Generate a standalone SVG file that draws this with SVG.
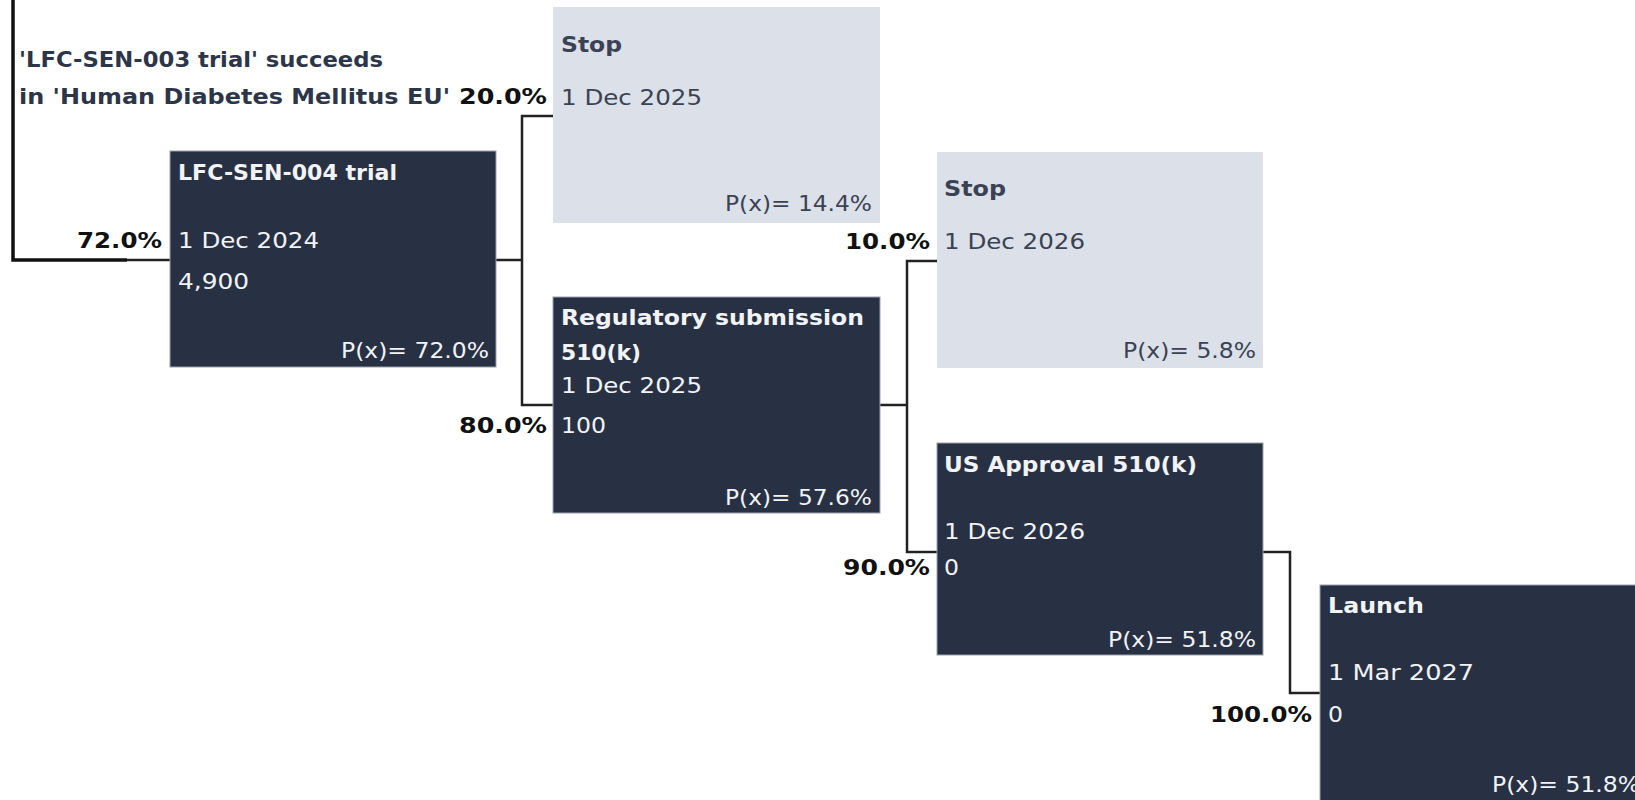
<svg xmlns="http://www.w3.org/2000/svg" width="1635" height="800" viewBox="0 0 1635 800">
<style>
text{font-family:"DejaVu Sans","Noto Sans",sans-serif;font-size:21px}
.dark rect{fill:#283144;stroke:#9aa0aa;stroke-width:1}
.light rect{fill:#dce0e8}
.dark text{fill:#f2f3f5}
.light text{fill:#3a4254}
.b{font-weight:bold}
.pct{font-weight:bold;fill:#111;text-anchor:end}
.cap{font-weight:bold;fill:#2d3548}
.con{fill:none;stroke:#222;stroke-width:2.5}
</style>
<rect width="1635" height="800" fill="#fff"/>
<g id="connectors">
<path d="M13 0 V260 H127" fill="none" stroke="#111" stroke-width="3.5"/>
<path class="con" d="M127 260 H170"/>
<path class="con" d="M496 260 H522 M553 116 H522 V405 H553"/>
<path class="con" d="M880 405 H907 M937 261 H907 V552 H937"/>
<path class="con" d="M1263 552 H1290 V693 H1320"/>
</g>
<g id="labels">
<text class="cap" x="19" y="67" textLength="364" lengthAdjust="spacingAndGlyphs">'LFC-SEN-003 trial' succeeds</text>
<text class="cap" x="19" y="104" textLength="431" lengthAdjust="spacingAndGlyphs">in 'Human Diabetes Mellitus EU'</text>
<text class="pct" x="547" y="104" textLength="88" lengthAdjust="spacingAndGlyphs">20.0%</text>
<text class="pct" x="162" y="248" textLength="85" lengthAdjust="spacingAndGlyphs">72.0%</text>
<text class="pct" x="547" y="433" textLength="88" lengthAdjust="spacingAndGlyphs">80.0%</text>
<text class="pct" x="930" y="249" textLength="85" lengthAdjust="spacingAndGlyphs">10.0%</text>
<text class="pct" x="930" y="575" textLength="87" lengthAdjust="spacingAndGlyphs">90.0%</text>
<text class="pct" x="1312" y="722" textLength="102" lengthAdjust="spacingAndGlyphs">100.0%</text>
</g>
<g id="node-trial" class="dark">
<rect x="170" y="151" width="326" height="216"/>
<text class="b" x="178" y="180" textLength="219" lengthAdjust="spacingAndGlyphs">LFC-SEN-004 trial</text>
<text x="178" y="248" textLength="141" lengthAdjust="spacingAndGlyphs">1 Dec 2024</text>
<text x="178" y="289" textLength="71" lengthAdjust="spacingAndGlyphs">4,900</text>
<text x="489" y="358" text-anchor="end" textLength="148" lengthAdjust="spacingAndGlyphs">P(x)= 72.0%</text>
</g>
<g id="node-stop1" class="light">
<rect x="553" y="7" width="327" height="216"/>
<text class="b" x="561" y="52" textLength="61" lengthAdjust="spacingAndGlyphs">Stop</text>
<text x="561" y="105" textLength="141" lengthAdjust="spacingAndGlyphs">1 Dec 2025</text>
<text x="872" y="211" text-anchor="end" textLength="147" lengthAdjust="spacingAndGlyphs">P(x)= 14.4%</text>
</g>
<g id="node-regulatory" class="dark">
<rect x="553" y="297" width="327" height="216"/>
<text class="b" x="561" y="325" textLength="303" lengthAdjust="spacingAndGlyphs">Regulatory submission</text>
<text class="b" x="561" y="360" textLength="80" lengthAdjust="spacingAndGlyphs">510(k)</text>
<text x="561" y="393" textLength="141" lengthAdjust="spacingAndGlyphs">1 Dec 2025</text>
<text x="561" y="433" textLength="45" lengthAdjust="spacingAndGlyphs">100</text>
<text x="872" y="505" text-anchor="end" textLength="147" lengthAdjust="spacingAndGlyphs">P(x)= 57.6%</text>
</g>
<g id="node-stop2" class="light">
<rect x="937" y="152" width="326" height="216"/>
<text class="b" x="944" y="196" textLength="62" lengthAdjust="spacingAndGlyphs">Stop</text>
<text x="944" y="249" textLength="141" lengthAdjust="spacingAndGlyphs">1 Dec 2026</text>
<text x="1256" y="358" text-anchor="end" textLength="133" lengthAdjust="spacingAndGlyphs">P(x)= 5.8%</text>
</g>
<g id="node-approval" class="dark">
<rect x="937" y="443" width="326" height="212"/>
<text class="b" x="944" y="472" textLength="253" lengthAdjust="spacingAndGlyphs">US Approval 510(k)</text>
<text x="944" y="539" textLength="141" lengthAdjust="spacingAndGlyphs">1 Dec 2026</text>
<text x="944" y="575" textLength="15" lengthAdjust="spacingAndGlyphs">0</text>
<text x="1256" y="647" text-anchor="end" textLength="148" lengthAdjust="spacingAndGlyphs">P(x)= 51.8%</text>
</g>
<g id="node-launch" class="dark">
<rect x="1320" y="585" width="326" height="220"/>
<text class="b" x="1328" y="613" textLength="96" lengthAdjust="spacingAndGlyphs">Launch</text>
<text x="1328" y="680" textLength="146" lengthAdjust="spacingAndGlyphs">1 Mar 2027</text>
<text x="1328" y="722" textLength="15" lengthAdjust="spacingAndGlyphs">0</text>
<text x="1492" y="792" textLength="148" lengthAdjust="spacingAndGlyphs">P(x)= 51.8%</text>
</g>
</svg>
